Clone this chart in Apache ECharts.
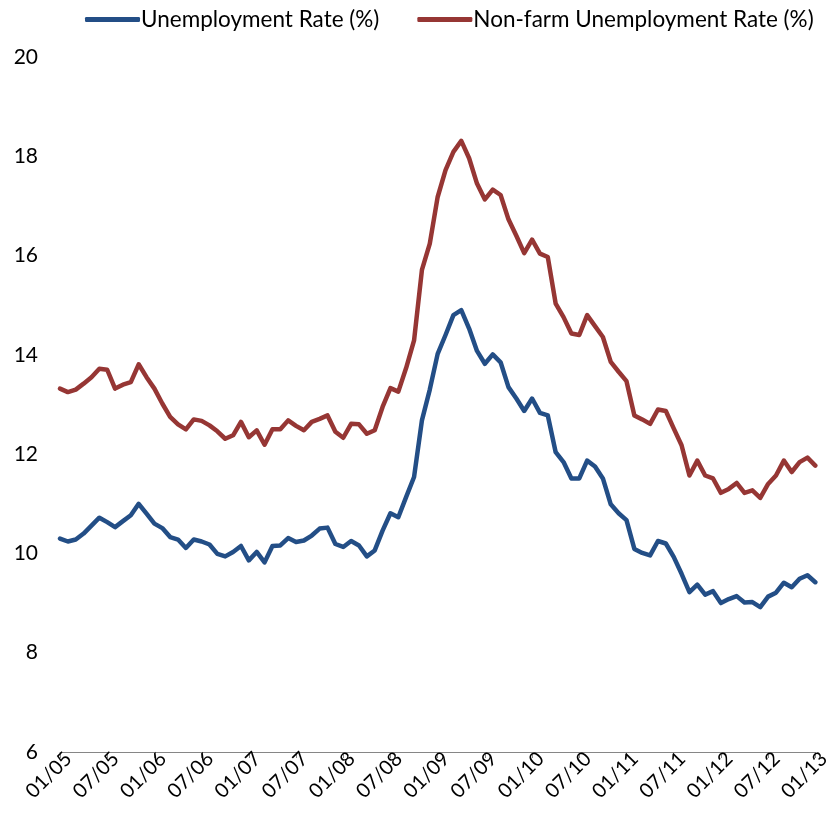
<!DOCTYPE html>
<html>
<head>
<meta charset="utf-8">
<script src="https://cdn.jsdelivr.net/npm/echarts@6/dist/echarts.min.js"></script>
<style>
  html, body { margin: 0; padding: 0; background: #fff; }
  #chart { width: 833px; height: 828px; }
</style>
</head>
<body>
<div id="chart"></div>
<script>
// Monthly rates, January 2005 through January 2013 (97 months)
const unemploymentRate = [
  10.30, 10.24, 10.28, 10.40, 10.56, 10.72, 10.63, 10.53, 10.65, 10.77,
  11.00, 10.80, 10.60, 10.51, 10.33, 10.28, 10.11, 10.28, 10.24, 10.18,
  9.99, 9.94, 10.03, 10.15, 9.86, 10.03, 9.82, 10.15, 10.16, 10.31,
  10.23, 10.26, 10.36, 10.50, 10.52, 10.19, 10.13, 10.25, 10.16, 9.94,
  10.06, 10.46, 10.81, 10.73, 11.14, 11.54, 12.68, 13.30, 14.02, 14.40,
  14.80, 14.90, 14.53, 14.08, 13.82, 14.01, 13.85, 13.35, 13.12, 12.87,
  13.12, 12.83, 12.78, 12.04, 11.84, 11.51, 11.51, 11.87, 11.75, 11.51,
  10.99, 10.81, 10.67, 10.09, 10.01, 9.96, 10.25, 10.20, 9.93, 9.59,
  9.22, 9.37, 9.17, 9.24, 9.00, 9.08, 9.14, 9.01, 9.02, 8.92,
  9.13, 9.21, 9.41, 9.32, 9.49, 9.56, 9.42
];

const nonFarmUnemploymentRate = [
  13.32, 13.25, 13.30, 13.42, 13.55, 13.72, 13.70, 13.32, 13.40, 13.45,
  13.81, 13.55, 13.32, 13.02, 12.75, 12.60, 12.50, 12.70, 12.67, 12.58,
  12.46, 12.31, 12.38, 12.65, 12.34, 12.48, 12.19, 12.50, 12.50, 12.68,
  12.57, 12.48, 12.65, 12.71, 12.78, 12.45, 12.33, 12.61, 12.60, 12.41,
  12.48, 12.95, 13.33, 13.26, 13.74, 14.29, 15.71, 16.24, 17.18, 17.72,
  18.09, 18.31, 17.96, 17.45, 17.13, 17.33, 17.22, 16.73, 16.40, 16.05,
  16.32, 16.04, 15.97, 15.03, 14.76, 14.43, 14.40, 14.80, 14.58, 14.36,
  13.86, 13.66, 13.47, 12.78, 12.70, 12.61, 12.90, 12.87, 12.52, 12.18,
  11.57, 11.87, 11.57, 11.51, 11.22, 11.30, 11.42, 11.22, 11.27, 11.12,
  11.40, 11.57, 11.87, 11.64, 11.84, 11.93, 11.77
];

// One label every six months, starting at 01/05
const tickLabels = [
  '01/05', '07/05', '01/06', '07/06', '01/07', '07/07', '01/08', '07/08',
  '01/09', '07/09', '01/10', '07/10', '01/11', '07/11', '01/12', '07/12', '01/13'
];

const seriesNames = ['Unemployment Rate (%)', 'Non-farm Unemployment Rate (%)'];
const seriesColors = ['#234E86', '#963634'];

const FONT = 'Lato, "Open Sans", "Noto Sans", sans-serif';

const toPoints = arr => arr.map((v, i) => [i, v]);

const chart = echarts.init(document.getElementById('chart'), null, { renderer: 'canvas' });

chart.setOption({
  animation: false,
  backgroundColor: '#ffffff',
  textStyle: { fontFamily: FONT, color: '#000' },
  legend: {
    top: 3,
    left: 80,
    itemGap: 38,
    itemWidth: 55,
    itemHeight: 5,
    icon: 'roundRect',
    textStyle: { fontFamily: FONT, fontSize: 22.5, color: '#000', padding: [0, 0, 0, -4] },
    data: seriesNames
  },
  grid: { left: 60, right: 13, top: 57, bottom: 76, containLabel: false },
  xAxis: {
    type: 'value',
    min: 0,
    max: 96,
    interval: 6,
    axisLine: { show: true, lineStyle: { color: '#868686', width: 1 } },
    axisTick: { show: true, length: 6, lineStyle: { color: '#868686' } },
    splitLine: { show: false },
    axisLabel: {
      rotate: 45,
      margin: 12,
      padding: [0, -12, 0, 0],
      fontSize: 20,
      fontFamily: FONT,
      color: '#000',
      showMinLabel: true,
      showMaxLabel: true,
      formatter: v => tickLabels[Math.round(v / 6)] || ''
    }
  },
  yAxis: {
    type: 'value',
    min: 6,
    max: 20,
    interval: 2,
    axisLine: { show: false },
    axisTick: { show: false },
    splitLine: { show: false },
    axisLabel: { fontSize: 21, fontFamily: FONT, color: '#000', margin: 22 }
  },
  series: [
    {
      name: seriesNames[0],
      type: 'line',
      data: toPoints(unemploymentRate),
      symbol: 'none',
      color: seriesColors[0],
      lineStyle: { width: 4.5, color: seriesColors[0], cap: 'round', join: 'round' }
    },
    {
      name: seriesNames[1],
      type: 'line',
      data: toPoints(nonFarmUnemploymentRate),
      symbol: 'none',
      color: seriesColors[1],
      lineStyle: { width: 4.5, color: seriesColors[1], cap: 'round', join: 'round' }
    }
  ]
});
</script>
</body>
</html>
